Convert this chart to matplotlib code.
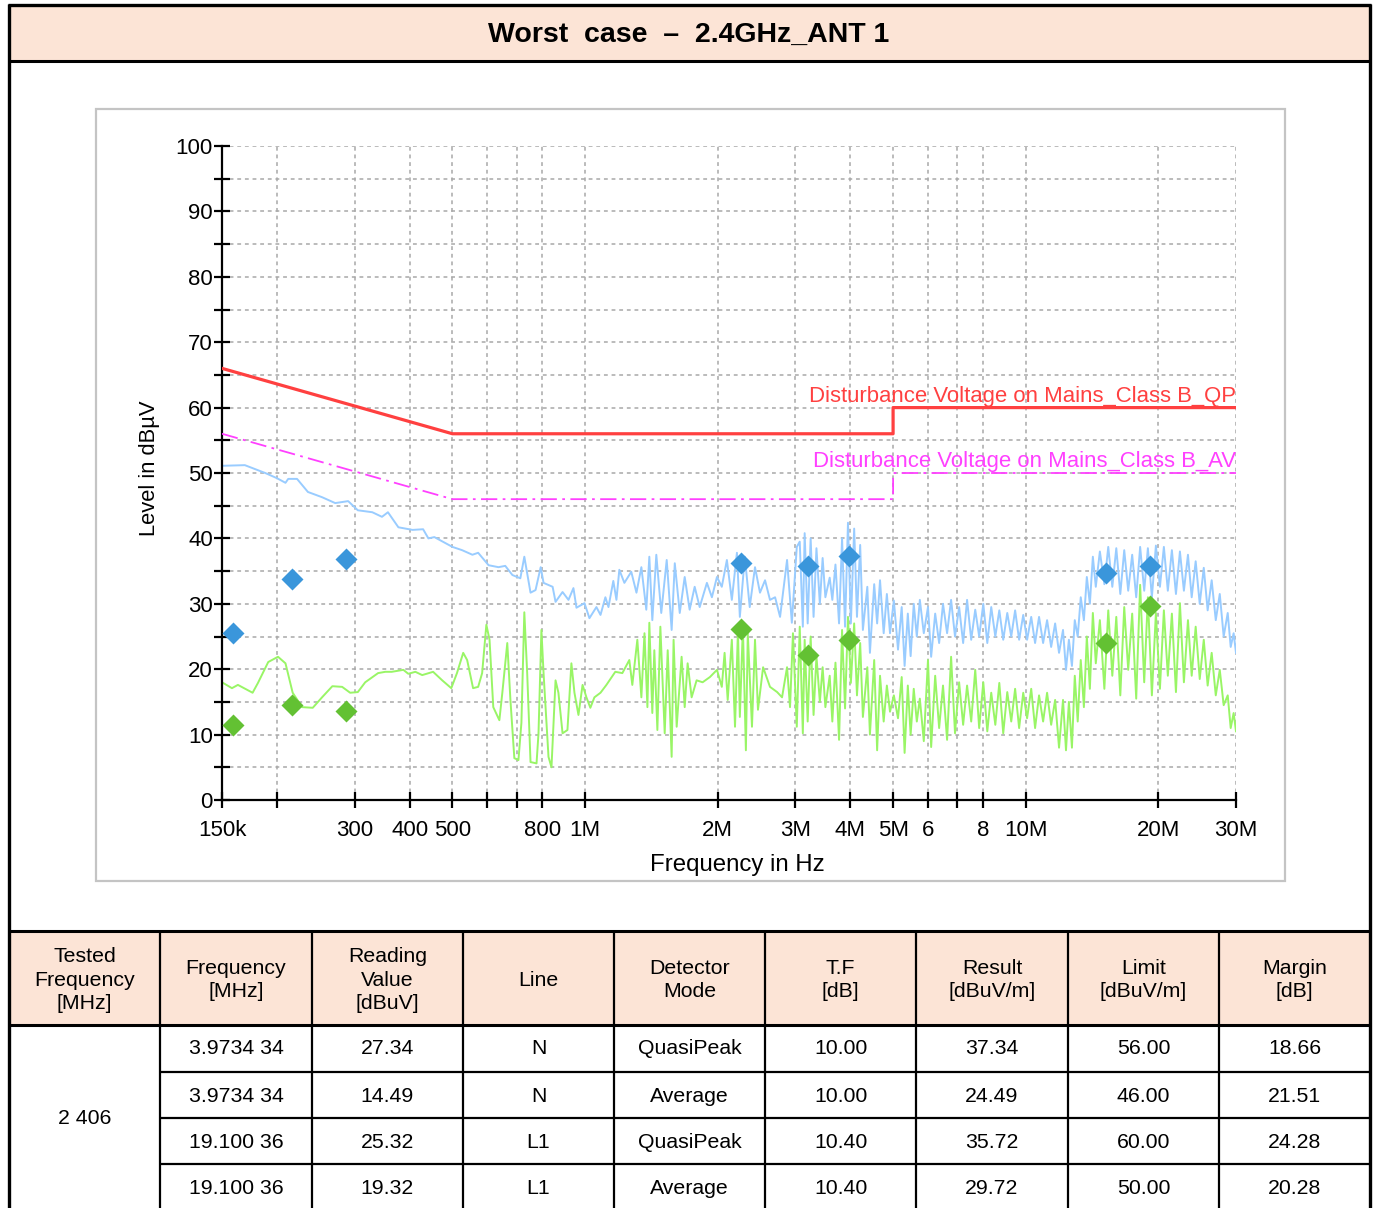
import matplotlib.pyplot as plt
from matplotlib.patches import Rectangle
from matplotlib.ticker import NullLocator, FixedLocator

plt.rcParams['font.family'] = ['Liberation Sans', 'DejaVu Sans']

# ---------------- chart data (frequency in MHz, level in dBuV) ----------------
peak_freq = [
    0.150, 0.169, 0.188, 0.200, 0.209, 0.212, 0.222, 0.235, 0.253, 0.271,
    0.290, 0.305, 0.329, 0.346, 0.357, 0.377, 0.406, 0.429, 0.441, 0.455,
    0.500, 0.526, 0.555, 0.572, 0.604, 0.636, 0.659, 0.684, 0.713, 0.728,
    0.752, 0.772, 0.793, 0.805, 0.844, 0.857, 0.889, 0.917, 0.941, 0.956,
    0.997, 1.023, 1.061, 1.084, 1.112, 1.130, 1.159, 1.178, 1.196, 1.228,
    1.273, 1.308, 1.342, 1.377, 1.399, 1.421, 1.451, 1.489, 1.532, 1.572,
    1.598, 1.640, 1.683, 1.727, 1.773, 1.820, 1.890, 1.940, 1.992, 2.043,
    2.098, 2.153, 2.211, 2.245, 2.304, 2.364, 2.430, 2.494, 2.561, 2.628,
    2.699, 2.770, 2.873, 2.946, 3.023, 3.07, 3.12, 3.15, 3.20, 3.25,
    3.30, 3.35, 3.41, 3.46, 3.51, 3.59, 3.64, 3.70, 3.77, 3.83,
    3.89, 3.95, 4.01, 4.08, 4.14, 4.21, 4.27, 4.37, 4.43, 4.53,
    4.60, 4.67, 4.76, 4.84, 4.92, 5.02, 5.13, 5.23, 5.31, 5.40,
    5.48, 5.57, 5.66, 5.75, 5.87, 6.00, 6.10, 6.23, 6.36, 6.49,
    6.63, 6.77, 6.91, 7.06, 7.21, 7.36, 7.52, 7.68, 7.84, 8.01,
    8.18, 8.35, 8.53, 8.71, 8.89, 9.08, 9.27, 9.46, 9.66, 9.87,
    10.07, 10.29, 10.50, 10.72, 10.95, 11.18, 11.42, 11.66, 11.90, 12.15,
    12.34, 12.53, 12.73, 12.92, 13.12, 13.33, 13.55, 13.76, 13.98, 14.20,
    14.42, 14.73, 15.08, 15.39, 15.72, 16.05, 16.39, 16.73, 17.08, 17.44,
    17.81, 18.18, 18.57, 18.93, 19.33, 19.74, 20.16, 20.58, 21.01, 21.46,
    21.92, 22.38, 22.85, 23.34, 23.80, 24.30, 24.82, 25.35, 25.87, 26.42,
    26.99, 27.56, 28.13, 28.73, 29.18, 29.63, 30.00,
]
peak_level = [
    51.1, 51.2, 50.0, 49.2, 48.5, 49.1, 49.1, 47.1, 46.3, 45.4,
    45.7, 44.3, 44.0, 43.3, 44.0, 41.7, 41.3, 41.4, 40.0, 40.2,
    38.7, 38.2, 37.5, 37.8, 35.9, 35.6, 35.8, 34.4, 33.9, 37.2,
    31.7, 32.1, 35.6, 33.2, 32.6, 30.3, 31.8, 30.6, 32.4, 29.4,
    30.1, 27.8, 29.5, 28.3, 31.0, 29.5, 33.5, 30.6, 35.2, 33.2,
    34.9, 31.7, 35.6, 29.1, 37.2, 27.5, 37.5, 28.6, 36.7, 26.0,
    36.2, 28.6, 34.1, 29.1, 32.6, 29.5, 33.2, 31.0, 34.1, 32.6,
    36.7, 30.6, 37.8, 28.0, 37.2, 29.5, 35.6, 31.7, 33.6, 30.6,
    31.0, 28.0, 36.7, 27.1, 38.7, 39.5, 26.5, 40.8, 27.0, 40.0,
    28.0, 38.5, 30.0, 37.0, 31.0, 34.0, 30.6, 36.0, 27.0, 40.0,
    26.5, 42.4, 27.0, 41.5, 28.0, 39.0, 26.0, 32.6, 22.5, 33.0,
    27.0, 33.6, 25.5, 31.5, 25.5, 30.5, 23.0, 29.5, 20.5, 28.5,
    22.0, 30.0, 25.0, 30.6, 25.5, 29.5, 21.9, 28.5, 24.0, 30.0,
    25.5, 30.6, 25.0, 29.5, 24.0, 30.6, 24.5, 29.1, 25.0, 30.0,
    24.0, 29.5, 25.0, 29.0, 24.5, 28.6, 25.0, 29.0, 24.5, 28.3,
    24.5, 28.0, 24.0, 28.0, 24.0, 27.5, 23.4, 27.0, 22.5, 26.0,
    19.9, 24.5, 20.5, 27.5, 25.0, 31.0, 27.5, 34.1, 30.0, 37.2,
    32.6, 38.0, 33.0, 38.7, 32.6, 38.5, 31.5, 38.2, 32.0, 37.5,
    31.0, 38.7, 32.0, 38.5, 31.0, 38.9, 32.6, 38.7, 32.0, 38.2,
    31.5, 38.0, 32.0, 37.5, 31.0, 36.5, 30.0, 35.5, 29.0, 33.6,
    27.5, 31.5, 25.0, 28.6, 23.4, 25.5, 22.5,
]

avg_freq = [
    0.150, 0.158, 0.163, 0.176, 0.181, 0.191, 0.201, 0.209, 0.217, 0.228,
    0.241, 0.253, 0.267, 0.281, 0.293, 0.305, 0.317, 0.339, 0.352, 0.364,
    0.387, 0.397, 0.412, 0.427, 0.452, 0.474, 0.497, 0.512, 0.529, 0.540,
    0.557, 0.572, 0.584, 0.597, 0.607, 0.619, 0.639, 0.649, 0.666, 0.677,
    0.691, 0.706, 0.717, 0.728, 0.739, 0.752, 0.776, 0.784, 0.796, 0.805,
    0.826, 0.839, 0.857, 0.870, 0.889, 0.912, 0.931, 0.946, 0.966, 0.987,
    1.007, 1.028, 1.050, 1.084, 1.118, 1.171, 1.215, 1.260, 1.280, 1.314,
    1.342, 1.364, 1.385, 1.399, 1.421, 1.436, 1.459, 1.482, 1.516, 1.540,
    1.572, 1.588, 1.614, 1.656, 1.683, 1.709, 1.745, 1.791, 1.848, 1.920,
    1.992, 2.043, 2.073, 2.107, 2.153, 2.189, 2.223, 2.245, 2.281, 2.317,
    2.340, 2.392, 2.430, 2.468, 2.535, 2.628, 2.728, 2.799, 2.873, 2.918,
    2.963, 3.023, 3.07, 3.12, 3.15, 3.20, 3.25, 3.30, 3.35, 3.41,
    3.46, 3.51, 3.59, 3.64, 3.70, 3.77, 3.83, 3.89, 3.95, 4.01,
    4.08, 4.14, 4.21, 4.27, 4.37, 4.43, 4.53, 4.60, 4.67, 4.76,
    4.84, 4.92, 5.02, 5.13, 5.23, 5.31, 5.40, 5.48, 5.57, 5.66,
    5.75, 5.87, 6.00, 6.10, 6.23, 6.36, 6.49, 6.63, 6.77, 6.91,
    7.06, 7.21, 7.36, 7.52, 7.68, 7.84, 8.01, 8.18, 8.35, 8.53,
    8.71, 8.89, 9.08, 9.27, 9.46, 9.66, 9.87, 10.07, 10.29, 10.50,
    10.72, 10.95, 11.18, 11.42, 11.66, 11.90, 12.15, 12.34, 12.53, 12.73,
    12.92, 13.12, 13.33, 13.55, 13.76, 13.98, 14.20, 14.42, 14.73, 15.08,
    15.39, 15.72, 16.05, 16.39, 16.73, 17.08, 17.44, 17.81, 18.18, 18.57,
    18.93, 19.33, 19.74, 20.16, 20.58, 21.01, 21.46, 21.92, 22.38, 22.85,
    23.34, 23.80, 24.30, 24.82, 25.35, 25.87, 26.42, 26.99, 27.56, 28.13,
    28.73, 29.18, 29.63, 30.00,
]
avg_level = [
    18.0, 17.1, 17.6, 16.4, 17.9, 21.1, 21.9, 20.9, 16.4, 14.2,
    14.1, 15.7, 17.4, 17.3, 16.4, 16.5, 18.0, 19.4, 19.6, 19.6,
    19.9, 19.3, 19.6, 19.1, 19.6, 18.3, 17.1, 19.4, 22.5, 21.4,
    17.1, 17.3, 19.4, 26.8, 24.5, 14.2, 12.2, 16.4, 24.0, 15.3,
    6.4, 6.1, 11.8, 28.7, 19.4, 5.8, 5.6, 10.2, 26.0, 19.4,
    6.6, 5.0, 18.3, 16.4, 10.2, 10.7, 20.9, 16.4, 13.0, 17.6,
    15.7, 14.1, 15.7, 16.4, 17.6, 19.6, 19.4, 21.4, 17.6, 24.5,
    15.7, 25.5, 14.2, 27.1, 13.3, 22.9, 10.7, 26.5, 10.2, 22.9,
    6.6, 24.5, 11.2, 21.9, 14.2, 20.9, 15.7, 18.3, 18.0, 18.8,
    19.9, 17.3, 22.5, 15.3, 24.5, 11.2, 26.0, 12.7, 26.5, 7.6,
    25.5, 11.2, 24.5, 13.8, 20.3, 17.3, 16.5, 15.7, 20.3, 14.2,
    25.5, 11.2, 26.5, 10.2, 24.5, 12.0, 25.0, 13.0, 22.0, 15.0,
    20.3, 14.2, 19.0, 12.0, 21.0, 9.2, 26.0, 14.0, 28.0, 17.9,
    27.0, 16.0, 24.0, 12.7, 20.3, 10.0, 21.4, 7.6, 19.0, 12.0,
    17.5, 13.5, 16.0, 12.5, 18.8, 7.2, 17.5, 10.0, 17.0, 12.0,
    15.5, 9.0, 21.4, 8.1, 19.0, 11.0, 17.5, 9.2, 21.9, 10.2,
    18.0, 11.5, 17.5, 12.0, 19.9, 11.0, 18.0, 10.5, 16.4, 11.5,
    17.9, 10.2, 16.5, 12.0, 17.0, 11.0, 16.4, 12.5, 17.0, 11.0,
    16.0, 12.0, 16.4, 11.5, 15.3, 8.0, 15.3, 7.6, 15.0, 8.0,
    19.0, 12.0, 21.4, 14.2, 25.0, 17.0, 28.6, 20.9, 27.5, 17.0,
    29.0, 19.0, 28.0, 16.0, 29.5, 19.9, 28.5, 15.5, 32.9, 18.0,
    31.0, 16.0, 28.6, 17.0, 29.0, 19.0, 28.5, 16.5, 30.1, 18.0,
    27.5, 19.0, 26.5, 18.5, 24.5, 17.5, 22.5, 16.0, 19.9, 14.5,
    16.0, 11.0, 13.3, 10.5,
]

# limit lines
limit_freq = [0.15, 0.5, 5.0, 5.0, 30.0]
qp_limit = [66, 56, 56, 60, 60]
av_limit = [56, 46, 46, 50, 50]

# final measurement markers
mark_freq = [0.159, 0.216, 0.287, 2.26, 3.20, 3.9734, 15.2, 19.10036]
mark_qp = [25.5, 33.8, 36.9, 36.2, 35.8, 37.34, 34.7, 35.72]
mark_av = [11.5, 14.5, 13.6, 26.1, 22.2, 24.49, 24.0, 29.72]

x_ticks = [0.15, 0.2, 0.3, 0.4, 0.5, 0.6, 0.7, 0.8, 1, 2, 3, 4, 5, 6, 7, 8, 10, 20, 30]
x_tick_labels = ['150k', '', '300', '400', '500', '', '', '800', '1M', '2M', '3M',
                 '4M', '5M', '6', '', '8', '10M', '20M', '30M']

# ---------------- table data ----------------
title = "Worst  case  \u2013  2.4GHz_ANT 1"
header = ["Tested\nFrequency\n[MHz]", "Frequency\n[MHz]", "Reading\nValue\n[dBuV]",
          "Line", "Detector\nMode", "T.F\n[dB]", "Result\n[dBuV/m]",
          "Limit\n[dBuV/m]", "Margin\n[dB]"]
tested_freq = "2 406"
freq_col = ["3.9734 34", "3.9734 34", "19.100 36", "19.100 36"]
reading_col = ["27.34", "14.49", "25.32", "19.32"]
line_col = ["N", "N", "L1", "L1"]
detector_col = ["QuasiPeak", "Average", "QuasiPeak", "Average"]
tf_col = ["10.00", "10.00", "10.40", "10.40"]
result_col = ["37.34", "24.49", "35.72", "29.72"]
limit_col = ["56.00", "46.00", "60.00", "50.00"]
margin_col = ["18.66", "21.51", "24.28", "20.28"]

W, H = 1373, 1208
peach = '#FCE4D6'

fig = plt.figure(figsize=(W / 100, H / 100), dpi=100)

# page layer in pixel coordinates
bg = fig.add_axes([0, 0, 1, 1])
bg.set_xlim(0, W)
bg.set_ylim(H, 0)
bg.axis('off')

bg.add_patch(Rectangle((9, 5), 1361, 56, facecolor=peach, edgecolor='none'))
bg.text(689, 35, title, ha='center', va='center', fontsize=20.5, fontweight='bold')
bg.add_patch(Rectangle((96, 109), 1189, 772, facecolor='white', edgecolor='#c4c4c4', lw=1.6))

col_x = [9, 160, 312, 463, 614, 765, 916, 1068, 1219, 1370]
bg.add_patch(Rectangle((9, 931), 1361, 94, facecolor=peach, edgecolor='none'))
for y, lw in [(5, 2.4), (61, 2.2), (931, 2.2), (1025, 2.2)]:
    bg.plot([8, 1371], [y, y], color='black', lw=lw, solid_capstyle='butt')
for x in [9, 1370]:
    bg.plot([x, x], [4, H], color='black', lw=2.4, solid_capstyle='butt')
for x in col_x[1:-1]:
    bg.plot([x, x], [931, H], color='black', lw=1.6, solid_capstyle='butt')
for y in [1072, 1118, 1164]:
    bg.plot([160, 1370], [y, y], color='black', lw=1.6, solid_capstyle='butt')

for i, txt in enumerate(header):
    bg.text((col_x[i] + col_x[i + 1]) / 2, 980, txt, ha='center', va='center',
            fontsize=15.3, linespacing=1.3)

row_y = [1049, 1096, 1142, 1189]
columns = [freq_col, reading_col, line_col, detector_col, tf_col,
           result_col, limit_col, margin_col]
for c, col in enumerate(columns):
    cx = (col_x[c + 1] + col_x[c + 2]) / 2
    for r, val in enumerate(col):
        bg.text(cx, row_y[r], val, ha='center', va='center', fontsize=15.3)
bg.text((col_x[0] + col_x[1]) / 2, 1119, tested_freq, ha='center', va='center', fontsize=15.3)

# ---------------- chart ----------------
ax = fig.add_axes([222 / W, 1 - 800 / H, 1014 / W, 654 / H])
ax.set_facecolor('white')
ax.set_xscale('log')

ax.plot(peak_freq, peak_level, color='#99CCFF', lw=1.4, zorder=2)
ax.plot(avg_freq, avg_level, color='#99F566', lw=1.4, zorder=2)
ax.plot(limit_freq, qp_limit, color='#FF4040', lw=2.3, zorder=3)
ax.plot(limit_freq, av_limit, color='#FF40FF', lw=1.3, zorder=3,
        linestyle=(0, (9, 3, 1.5, 3)))
ax.plot(mark_freq, mark_qp, 'D', color='#3A96DB', ms=11.5, mec='none', zorder=4)
ax.plot(mark_freq, mark_av, 'D', color='#63C133', ms=11.5, mec='none', zorder=4)

ax.text(30, 60.9, "Disturbance Voltage on Mains_Class B_QP", color='#FF4040',
        ha='right', va='baseline', fontsize=15.9)
ax.text(30, 50.9, "Disturbance Voltage on Mains_Class B_AV", color='#FF40FF',
        ha='right', va='baseline', fontsize=15.9)

ax.set_xlim(0.15, 30)
ax.set_ylim(0, 100)
ax.xaxis.set_major_locator(FixedLocator(x_ticks))
ax.set_xticklabels(x_tick_labels)
ax.xaxis.set_minor_locator(NullLocator())
ax.set_yticks(range(0, 101, 10))
ax.yaxis.set_minor_locator(FixedLocator(range(5, 100, 10)))

ax.grid(True, which='both', color='#a8a8a8', lw=1.1, linestyle=(0, (2.5, 2.5)))
ax.set_axisbelow(True)
for s in ['top', 'right']:
    ax.spines[s].set_visible(False)
for s in ['left', 'bottom']:
    ax.spines[s].set_linewidth(1.6)
ax.tick_params(axis='both', which='both', direction='inout', length=11, width=1.6,
               labelsize=16)
ax.tick_params(axis='y', pad=1)
ax.tick_params(axis='x', pad=9)

ax.set_ylabel("Level in dB\u00b5V", fontsize=15.8)
ax.yaxis.set_label_coords(-0.061, 0.508)
ax.set_xlabel("Frequency in Hz", fontsize=17.3)
ax.xaxis.set_label_coords(0.508, -0.082)

fig.savefig("out.png", dpi=100)
